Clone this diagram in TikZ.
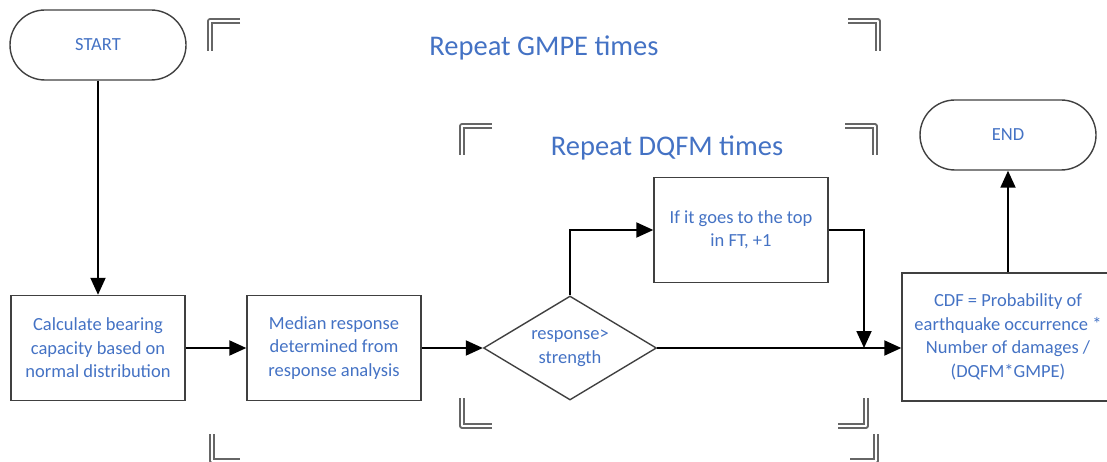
\documentclass[tikz,border=0pt]{standalone}
\usepackage{fontspec}
\setmainfont{Carlito}
\usetikzlibrary{shapes.geometric,arrows.meta}
\definecolor{txtblue}{RGB}{68,114,196}
\begin{document}
\begin{tikzpicture}[x=1pt,y=-1pt,
  box/.style={draw=black!75,line width=1.4pt,text=txtblue,font=\fontsize{18.5}{23.5}\selectfont,align=center,inner sep=0pt},
  rectbox/.style={box,minimum width=174pt,minimum height=105pt},
  term/.style={box,rounded corners=35pt,minimum width=176pt,minimum height=70pt},
  dec/.style={box,shape=diamond,aspect=1.66,minimum width=173pt,minimum height=104pt},
  arr/.style={line width=1.9pt,-{Triangle[length=17pt,width=15pt]}},
  bracket/.style={draw=black!60,double=white,double distance=2.4pt,line width=1.4pt,line join=round},
  title/.style={text=txtblue,font=\fontsize{28.5}{34}\selectfont,inner sep=0pt}
]
\useasboundingbox (0,0) rectangle (1107,462);

% brackets
\draw[bracket] (240,21) -- (210,21) -- (210,51);
\draw[bracket] (848,21) -- (878,21) -- (878,51);
\draw[bracket] (212,434) -- (212,461) -- (240,461);
\draw[bracket] (876,434) -- (876,461) -- (850,461);
\draw[bracket] (492,126) -- (462,126) -- (462,155);
\draw[bracket] (845,126) -- (875,126) -- (875,155);
\draw[bracket] (462,398) -- (462,426) -- (492,426);
\draw[bracket] (866,398) -- (866,426) -- (838,426);

\node[title] (gmpe) at (544,48) {Repeat GMPE times};
\node[title] (dqfm) at (667,148) {Repeat DQFM times};

\node[term] (start) at (98,45) {START};
\node[rectbox] (calc) at (98,348) {Calculate bearing\\capacity based on\\normal distribution};
\node[rectbox] (median) at (334,348) {Median response\\determined from\\response analysis};
\node[dec] (dia) at (570,348) {response>\\strength};
\node[rectbox] (top) at (741,230) {If it goes to the top\\in FT, +1};
\node[box,minimum width=212pt,minimum height=128pt] (cdf) at (1008,337) {CDF = Probability of\\earthquake occurrence *\\Number of damages /\\(DQFM*GMPE)};
\node[term] (end) at (1008,135) {END};
\coordinate (join) at (864,348);

\draw[arr] (start) -- (calc);
\draw[arr] (calc) -- (median);
\draw[arr] (median) -- (dia);
\draw[arr] (dia.north) |- (top.west);
\draw[arr] (top.east) -| (join);
\draw[arr] (dia.east) -- (dia.east -| cdf.west);
\draw[arr] (cdf) -- (end);
\end{tikzpicture}
\end{document}
